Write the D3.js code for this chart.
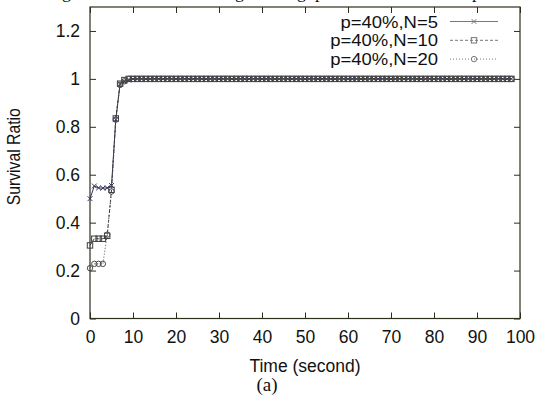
<!DOCTYPE html>
<html><head><meta charset="utf-8">
<script src="https://cdn.jsdelivr.net/npm/d3@7"></script>
<style>html,body{margin:0;padding:0;background:#fff}svg{display:block}</style>
</head><body>
<script>
// Sample times (seconds)
const times = [0,1,2,3,4,5,6,7,8,9,10,11,12,13,14,15,16,17,18,19,20,21,22,23,24,25,26,27,28,29,30,31,32,33,34,35,36,37,38,39,40,41,42,43,44,45,46,47,48,49,50,51,52,53,54,55,56,57,58,59,60,61,62,63,64,65,66,67,68,69,70,71,72,73,74,75,76,77,78,79,80,81,82,83,84,85,86,87,88,89,90,91,92,93,94,95,96,97,98];

// Survival ratio per group size
const ratioN5 = [0.50,0.553,0.545,0.544,0.545,0.555,0.83,0.98,0.99,0.995,1,1,1,1,1,1,1,1,1,1,1,1,1,1,1,1,1,1,1,1,1,1,1,1,1,1,1,1,1,1,1,1,1,1,1,1,1,1,1,1,1,1,1,1,1,1,1,1,1,1,1,1,1,1,1,1,1,1,1,1,1,1,1,1,1,1,1,1,1,1,1,1,1,1,1,1,1,1,1,1,1,1,1,1,1,1,1,1,1];
const ratioN10 = [0.305,0.333,0.333,0.333,0.345,0.537,0.835,0.98,0.995,1,1,1,1,1,1,1,1,1,1,1,1,1,1,1,1,1,1,1,1,1,1,1,1,1,1,1,1,1,1,1,1,1,1,1,1,1,1,1,1,1,1,1,1,1,1,1,1,1,1,1,1,1,1,1,1,1,1,1,1,1,1,1,1,1,1,1,1,1,1,1,1,1,1,1,1,1,1,1,1,1,1,1,1,1,1,1,1,1,1];
const ratioN20 = [0.21,0.228,0.228,0.228,0.35,0.53,0.83,0.975,0.99,1,1,1,1,1,1,1,1,1,1,1,1,1,1,1,1,1,1,1,1,1,1,1,1,1,1,1,1,1,1,1,1,1,1,1,1,1,1,1,1,1,1,1,1,1,1,1,1,1,1,1,1,1,1,1,1,1,1,1,1,1,1,1,1,1,1,1,1,1,1,1,1,1,1,1,1,1,1,1,1,1,1,1,1,1,1,1,1,1,1];

const seriesLabels = ["p=40%,N=5", "p=40%,N=10", "p=40%,N=20"];
const xTicks = [0,10,20,30,40,50,60,70,80,90,100];
const yTicks = [0,0.2,0.4,0.6,0.8,1,1.2];

const W = 540, H = 398;
const plotLeft = 90, plotRight = 520, plotTop = 7, plotBottom = 318.5;
const sans = "'Liberation Sans', Arial, sans-serif";
const serif = "'Liberation Serif', 'Times New Roman', serif";
const ink = "#111";
const frameColor = "#2e2e1c";

const svg = d3.select("body").append("svg").attr("width", W).attr("height", H);

const x = d3.scaleLinear().domain([0, 100]).range([plotLeft, plotRight]);
const y = d3.scaleLinear().domain([0, 1.3]).range([plotBottom, plotTop]);

// tail of the caption line above the figure (mostly clipped)
const capG = svg.append("g").attr("font-family", serif).attr("font-size", 18).attr("fill", ink);
[["g", 62], ["g", 235], ["g", 297], ["p", 315], ["p", 472]].forEach(([t, px]) => {
  capG.append("text").attr("x", px).attr("y", -2).text(t);
});

const fmt = d => String(+d.toFixed(1));

function styleAxis(g) {
  g.select(".domain").remove();
  g.selectAll(".tick line").attr("stroke", frameColor).attr("stroke-width", 1);
  g.selectAll(".tick text").attr("fill", ink).attr("font-family", sans).attr("font-size", 17.5);
}

// bottom axis with labels
svg.append("g").attr("transform", `translate(0,${plotBottom})`)
  .call(d3.axisBottom(x).tickValues(xTicks).tickFormat(fmt).tickSizeInner(-6).tickSizeOuter(0).tickPadding(12))
  .call(styleAxis);
// top mirror ticks
svg.append("g").attr("transform", `translate(0,${plotTop})`)
  .call(d3.axisTop(x).tickValues(xTicks).tickFormat("").tickSizeInner(-6).tickSizeOuter(0))
  .call(styleAxis);
// left axis with labels
svg.append("g").attr("transform", `translate(${plotLeft},0)`)
  .call(d3.axisLeft(y).tickValues(yTicks).tickFormat(fmt).tickSizeInner(-6).tickSizeOuter(0).tickPadding(10))
  .call(styleAxis);
// right mirror ticks
svg.append("g").attr("transform", `translate(${plotRight},0)`)
  .call(d3.axisRight(y).tickValues(yTicks).tickFormat("").tickSizeInner(-6).tickSizeOuter(0))
  .call(styleAxis);

// plot frame
svg.append("rect").attr("x", plotLeft).attr("y", plotTop)
  .attr("width", plotRight - plotLeft).attr("height", plotBottom - plotTop)
  .attr("fill", "none").attr("stroke", frameColor).attr("stroke-width", 1.2);

// axis titles
svg.append("text").attr("transform", `translate(20,${(plotTop + plotBottom) / 2 - 6}) rotate(-90) scale(0.9,1)`)
  .attr("text-anchor", "middle").attr("font-family", sans).attr("font-size", 17.5).attr("fill", ink)
  .text("Survival Ratio");
svg.append("text").attr("x", 305).attr("y", 372).attr("text-anchor", "middle")
  .attr("font-family", sans).attr("font-size", 17.5).attr("fill", ink).text("Time (second)");
svg.append("text").attr("x", 267).attr("y", 391).attr("text-anchor", "middle")
  .attr("font-family", serif).attr("font-size", 19).attr("fill", ink).text("(a)");

// series definitions
const series = [
  { label: seriesLabels[0], values: ratioN5, color: "#34345a", dash: null, marker: "cross" },
  { label: seriesLabels[1], values: ratioN10, color: "#3c3c3c", dash: "3,2", marker: "square" },
  { label: seriesLabels[2], values: ratioN20, color: "#4a4a4a", dash: "1,2", marker: "circle" }
];

function drawMarker(g, kind, cx, cy, color) {
  if (kind === "cross") {
    const s = 2.4;
    g.append("path").attr("d", `M${cx - s},${cy - s}L${cx + s},${cy + s}M${cx - s},${cy + s}L${cx + s},${cy - s}`)
      .attr("stroke", color).attr("stroke-width", 1).attr("fill", "none");
  } else if (kind === "square") {
    const s = 2.7;
    g.append("rect").attr("x", cx - s).attr("y", cy - s).attr("width", 2 * s).attr("height", 2 * s)
      .attr("fill", "none").attr("stroke", color).attr("stroke-width", 1);
  } else {
    g.append("circle").attr("cx", cx).attr("cy", cy).attr("r", 2.7)
      .attr("fill", "none").attr("stroke", color).attr("stroke-width", 1);
  }
}

const line = d3.line().x(d => x(d[0])).y(d => y(d[1]));
const plot = svg.append("g");
series.forEach(s => {
  const pts = times.map((t, i) => [t, s.values[i]]);
  plot.append("path").attr("d", line(pts)).attr("fill", "none").attr("stroke", s.color)
    .attr("stroke-width", 1).attr("stroke-dasharray", s.dash);
  const mg = plot.append("g");
  pts.forEach(p => drawMarker(mg, s.marker, x(p[0]), y(p[1]), s.color));
});

// legend: labels slightly widened so the tight rows keep their spacing
const legend = svg.append("g");
series.forEach((s, i) => {
  const ly = 21.5 + i * 18.8;
  legend.append("text").attr("transform", `translate(438,${ly + 6}) scale(1.1,1)`)
    .attr("text-anchor", "end")
    .attr("font-family", sans).attr("font-size", 16.8).attr("fill", ink).text(s.label);
  legend.append("line").attr("x1", 450).attr("x2", 498).attr("y1", ly).attr("y2", ly)
    .attr("stroke", "#777").attr("stroke-width", 1).attr("stroke-dasharray", s.dash);
  drawMarker(legend, s.marker, 474, ly, "#777");
});
</script>
</body></html>
